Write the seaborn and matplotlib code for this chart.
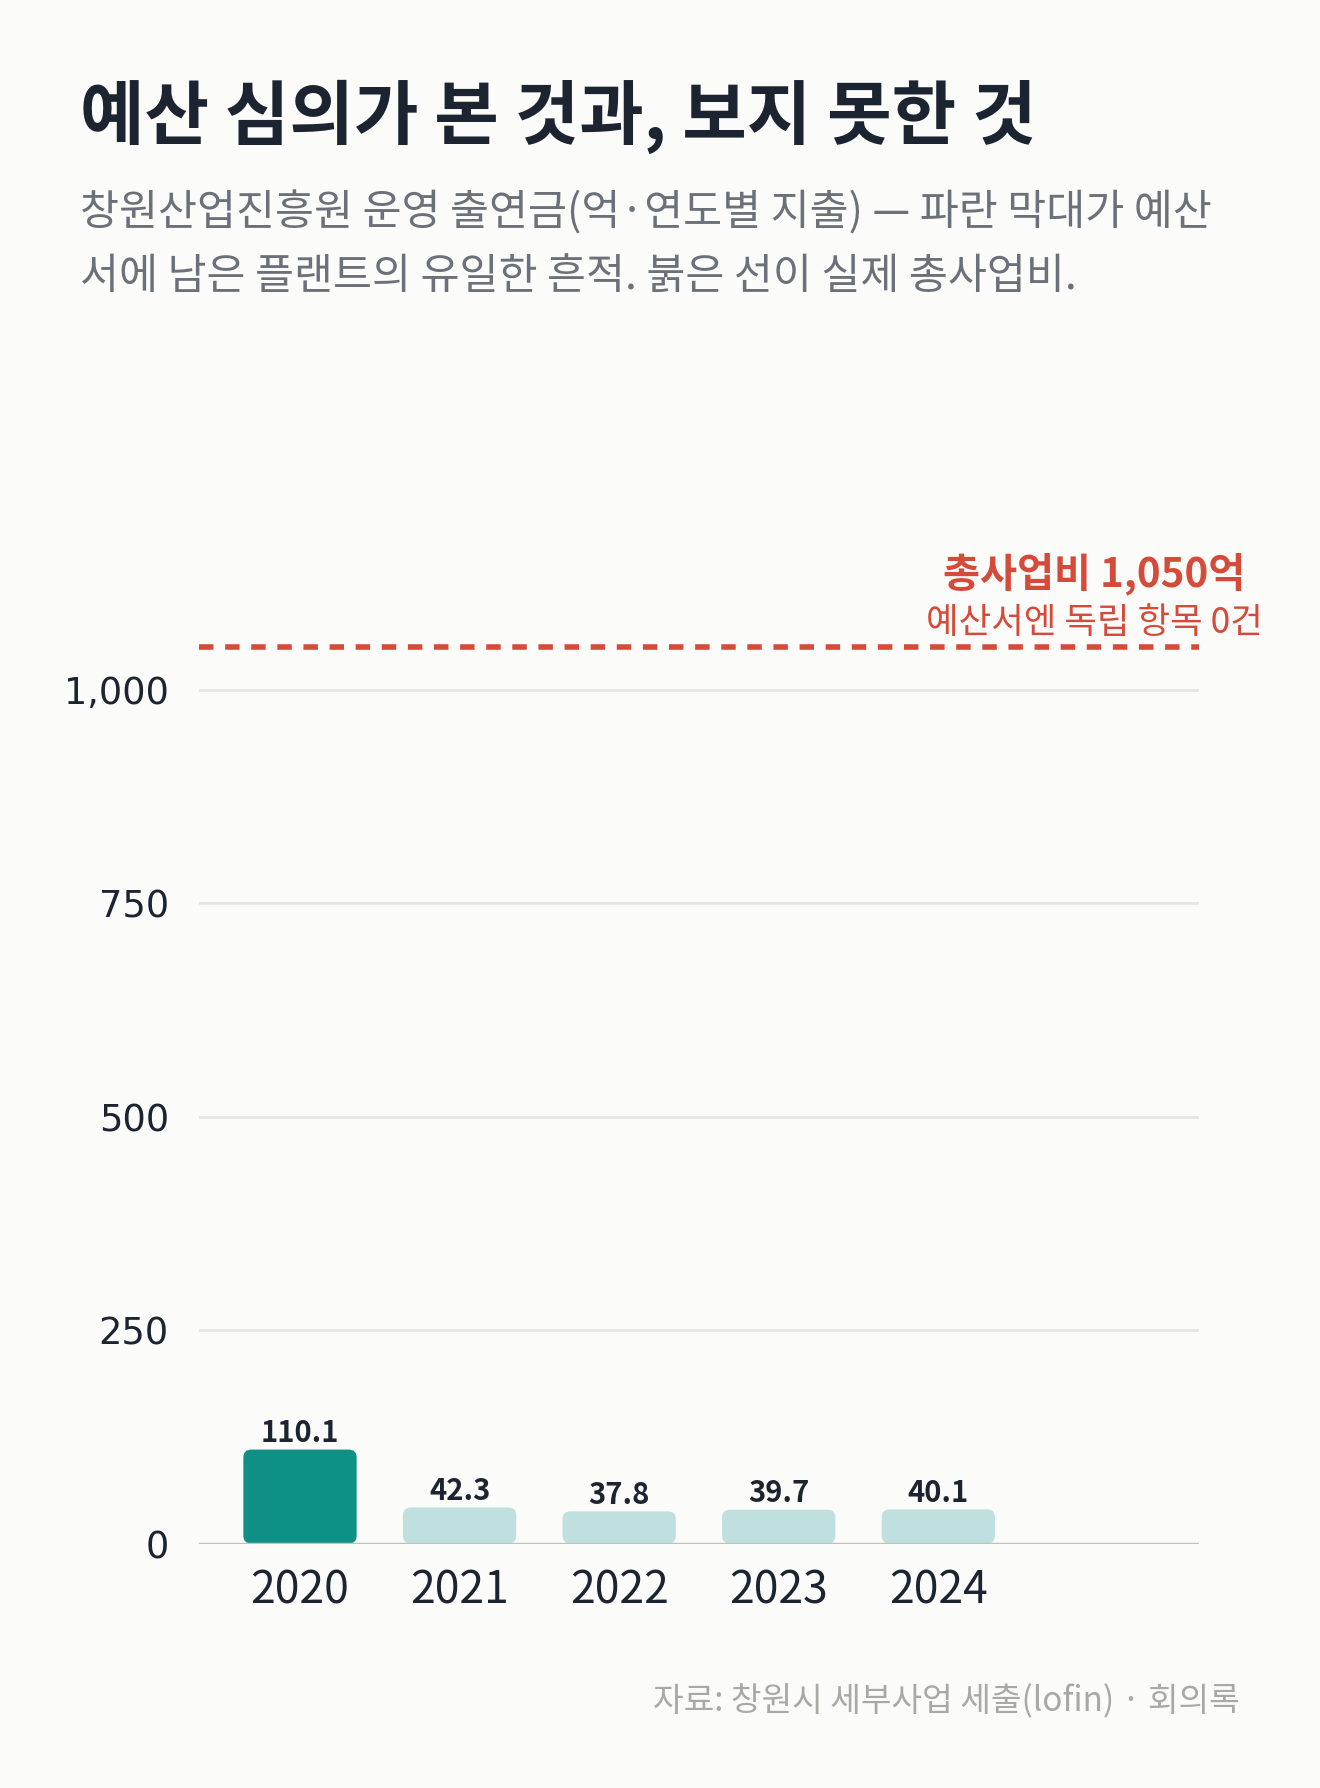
import matplotlib
matplotlib.use("Agg")
from matplotlib import pyplot as plt
from matplotlib.patches import FancyBboxPatch
import pandas as pd
import seaborn as sns

# data (억 원)
years = ['2020', '2021', '2022', '2023', '2024']
spend = [110.1, 42.3, 37.8, 39.7, 40.1]
total_cost = 1050
yticks = [0, 250, 500, 750, 1000]

title = '예산 심의가 본 것과, 보지 못한 것'
subtitle1 = '창원산업진흥원 운영 출연금(억·연도별 지출) — 파란 막대가 예산'
subtitle2 = '서에 남은 플랜트의 유일한 흔적. 붉은 선이 실제 총사업비.'
note1 = '총사업비 1,050억'
note2 = '예산서엔 독립 항목 0건'
source = '자료: 창원시 세부사업 세출(lofin) · 회의록'

bg = '#fbfbf9'
dark = '#1b2430'
teal = '#0e9084'
teal_light = '#bfe0de'
red = '#d64a3a'

sns.set_theme(style='white')
plt.rcParams['font.family'] = ['Noto Sans CJK KR', 'DejaVu Sans']

df = pd.DataFrame({'year': years, 'spend': spend})
palette = [teal] + [teal_light] * (len(years) - 1)

fig = plt.figure(figsize=(13.2, 17.88), dpi=100, facecolor=bg)
ax = fig.add_axes([0.1511, 0.1367, 0.7572, 0.5253])
ax.set_facecolor(bg)

sns.barplot(data=df, x='year', y='spend', hue='year', palette=palette,
            legend=False, width=0.71, saturation=1, ax=ax, zorder=3)

# swap plain bars for rounded ones
for p in list(ax.patches):
    x0, y0 = p.get_x(), p.get_y()
    w, h = p.get_width(), p.get_height()
    fc = p.get_facecolor()
    p.remove()
    ax.add_patch(FancyBboxPatch((x0, y0), w, h,
                                boxstyle='round,pad=0,rounding_size=0.05',
                                mutation_aspect=188, facecolor=fc,
                                edgecolor='none', zorder=3))

for i, v in enumerate(spend):
    ax.annotate(f'{v:.1f}', (i, v), xytext=(0, 1), textcoords='offset points',
                ha='center', va='bottom', fontsize=21, fontweight='bold',
                color=dark, zorder=4)

ax.set_xlim(-0.63, 5.633)
ax.set_ylim(0, 1100)
ax.set_yticks(yticks)
ax.set_yticklabels([f'{t:,}' for t in yticks], family='DejaVu Sans')
for t in yticks[1:]:
    ax.axhline(t, color='#e6e6e4', lw=2, zorder=1)
ax.axhline(0, color='#c2c2ba', lw=2.5, zorder=5)

ax.axhline(total_cost, color=red, lw=4, dashes=(2.6, 2.1), zorder=4)
trans = ax.get_yaxis_transform()
ax.annotate(note2, (0.895, total_cost), xycoords=trans,
            xytext=(0, 4), textcoords='offset points',
            ha='center', va='bottom', fontsize=25.5, color=red)
ax.annotate(note1, (0.895, total_cost), xycoords=trans,
            xytext=(0, 37), textcoords='offset points',
            ha='center', va='bottom', fontsize=29, fontweight='bold', color=red)

for s in ax.spines.values():
    s.set_visible(False)
ax.set_xlabel('')
ax.set_ylabel('')
ax.tick_params(axis='y', length=0, pad=22, labelsize=26.5, labelcolor=dark)
ax.tick_params(axis='x', length=0, pad=17, labelsize=32, labelcolor=dark)

fig.text(80 / 1320, 1 - 80 / 1788, title, ha='left', va='top',
         fontsize=50.5, fontweight='bold', color=dark)
fig.text(80 / 1320, 1 - 213 / 1788, subtitle1, ha='left', va='center',
         fontsize=30.5, color='#6b7079')
fig.text(80 / 1320, 1 - 277 / 1788, subtitle2, ha='left', va='center',
         fontsize=30.5, color='#6b7079')
fig.text(1240 / 1320, 1 - 1702 / 1788, source, ha='right', va='center',
         fontsize=24, color='#a9a9a3')

fig.savefig('out.png', dpi=100, facecolor=bg)
